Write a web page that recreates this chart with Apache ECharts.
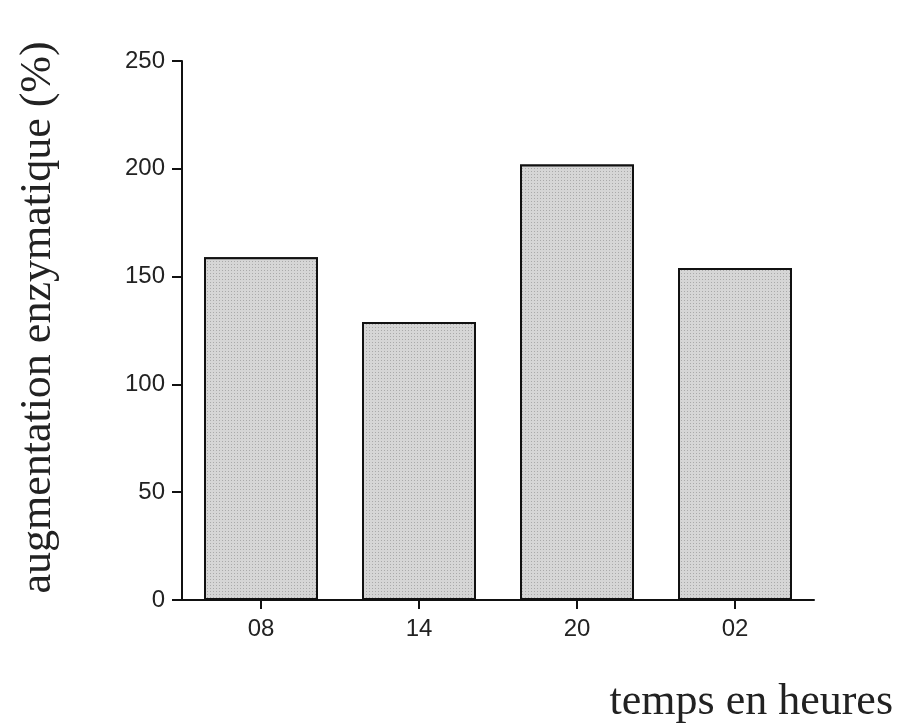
<!DOCTYPE html>
<html>
<head>
<meta charset="utf-8">
<script src="https://cdn.jsdelivr.net/npm/echarts@6/dist/echarts.min.js"></script>
<style>
html,body{margin:0;padding:0;background:#fff;}
#chart{width:899px;height:726px;}
</style>
</head>
<body>
<div id="chart"></div>
<script>
var categories = ['08', '14', '20', '02'];
var values = [159, 129, 202, 154];
var yTicks = [0, 50, 100, 150, 200, 250];
var yAxisName = 'augmentation enzymatique (%)';
var xAxisName = 'temps en heures';

var chart = echarts.init(document.getElementById('chart'), null, {renderer: 'canvas'});
var serif = '"Liberation Serif", "DejaVu Serif", serif';
var sans = '"Liberation Sans", Arial, sans-serif';
chart.setOption({
  backgroundColor: '#ffffff',
  animation: false,
  grid: {left: 182, right: 85, top: 61, bottom: 126},
  xAxis: {
    type: 'category',
    data: categories,
    boundaryGap: true,
    axisLine: {show: true, lineStyle: {color: '#111', width: 2}},
    axisTick: {show: true, alignWithLabel: true, length: 9, lineStyle: {color: '#111', width: 2}},
    axisLabel: {color: '#222', fontFamily: sans, fontSize: 24, margin: 17},
    splitLine: {show: false},
    name: xAxisName,
    nameLocation: 'end',
    nameGap: 79,
    nameTextStyle: {fontFamily: serif, fontSize: 44, color: '#222', align: 'right', verticalAlign: 'top', padding: [80, 0, 0, 0]}
  },
  yAxis: {
    type: 'value',
    min: yTicks[0],
    max: yTicks[yTicks.length - 1],
    interval: 50,
    axisLine: {show: true, lineStyle: {color: '#111', width: 2}},
    axisTick: {show: true, length: 10, lineStyle: {color: '#111', width: 2}},
    axisLabel: {color: '#222', fontFamily: sans, fontSize: 24, margin: 17},
    splitLine: {show: false},
    name: yAxisName,
    nameLocation: 'middle',
    nameGap: 122,
    nameTextStyle: {fontFamily: serif, fontSize: 44, color: '#222', padding: [0, 0, 0, 26]}
  },
  series: [{
    type: 'bar',
    data: values,
    barWidth: 114,
    itemStyle: {
      color: '#d2d2d2',
      borderColor: '#111',
      borderWidth: 2,
      decal: {
        symbol: 'rect',
        symbolSize: 1,
        dashArrayX: [1, 2],
        dashArrayY: [1, 2],
        color: 'rgba(90,90,90,0.35)',
        backgroundColor: '#d6d6d6'
      }
    }
  }]
});
</script>
</body>
</html>
